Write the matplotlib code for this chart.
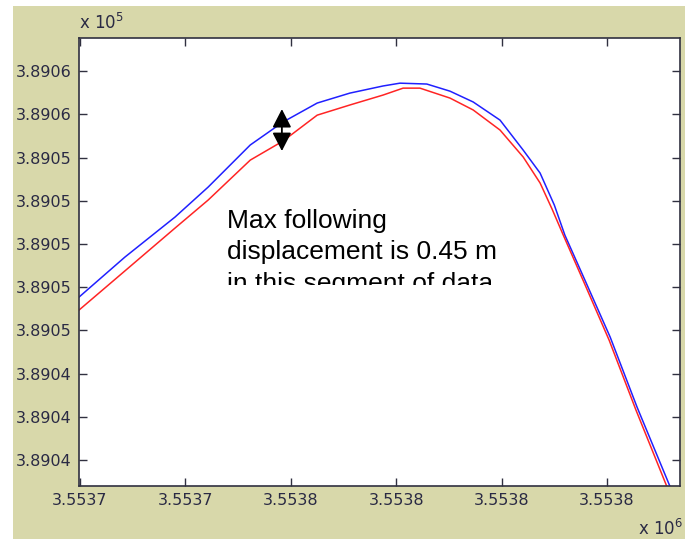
import numpy as np
import matplotlib
matplotlib.use('Agg')
import matplotlib.pyplot as plt
from matplotlib.patches import Rectangle
from matplotlib.transforms import Bbox, TransformedBbox

# easting / northing of the two tracks (m)
blue_x = [3553719.8, 3553728.5, 3553738.0, 3553744.3, 3553752.3, 3553758.5,
          3553765.0, 3553771.2, 3553777.5, 3553780.7, 3553785.8, 3553790.2, 3553794.6,
          3553799.7, 3553804.1, 3553807.3, 3553810.0, 3553812.0, 3553815.8, 3553820.6,
          3553825.7, 3553832.0]
blue_y = [389047.54, 389049.39, 389051.24, 389052.63, 389054.58, 389055.64,
          389056.52, 389056.98, 389057.31, 389057.44, 389057.40, 389057.07, 389056.57,
          389055.73, 389054.34, 389053.28, 389051.80, 389050.41, 389048.33, 389045.69,
          389042.45, 389038.75]

red_x = [3553719.8, 3553728.5, 3553738.0, 3553744.3, 3553752.3, 3553758.5, 3553765.0,
         3553771.2, 3553777.5, 3553781.3, 3553784.5, 3553790.2, 3553794.6, 3553799.7,
         3553804.1, 3553807.3, 3553809.6, 3553811.7, 3553815.6, 3553820.4, 3553825.5,
         3553831.4]
red_y = [389046.94, 389048.75, 389050.73, 389052.03, 389053.88, 389054.76, 389055.96,
         389056.43, 389056.89, 389057.21, 389057.21, 389056.75, 389056.20, 389055.27,
         389054.02, 389052.82, 389051.60, 389050.41, 389048.24, 389045.55, 389042.31,
         389038.75]

x_ticks = [3553720, 3553740, 3553760, 3553780, 3553800, 3553820]
x_tick_labels = ['3.5537', '3.5537', '3.5538', '3.5538', '3.5538', '3.5538']
y_ticks = [389058, 389056, 389054, 389052, 389050, 389048, 389046, 389044, 389042, 389040]
y_tick_labels = ['3.8906', '3.8906', '3.8905', '3.8905', '3.8905', '3.8905', '3.8905',
                 '3.8904', '3.8904', '3.8904']

note_lines = ['Max following', 'displacement is 0.45 m', 'in this segment of data']

W, H = 694, 539
fig = plt.figure(figsize=(W / 100, H / 100), dpi=100, facecolor='white')

# matlab style figure background
fig.patches.append(Rectangle((13 / W, 0), (685 - 13) / W, (H - 6) / H,
                             transform=fig.transFigure, facecolor='#d8d8aa',
                             edgecolor='none', zorder=-10))

ax = fig.add_axes([79 / W, (H - 486) / H, (680 - 79) / W, (486 - 38) / H])
ax.set_facecolor('white')

ax.plot(blue_x, blue_y, color='#2020ff', lw=1.1)
ax.plot(red_x, red_y, color='#ff2424', lw=1.1)

ax.set_xlim(3553719.8, 3553833.85)
ax.set_ylim(389038.80, 389059.53)

ax.set_xticks(x_ticks)
ax.set_xticklabels(x_tick_labels)
ax.set_yticks(y_ticks)
ax.set_yticklabels(y_tick_labels)

lab_col = '#2a2a44'
ax.tick_params(direction='in', length=6, width=1, top=True, right=True,
               labelsize=11.5, labelcolor=lab_col, color='#303040')
ax.tick_params(axis='y', pad=5.5)
ax.tick_params(axis='x', pad=5)
for s in ax.spines.values():
    s.set_color('#303040')
    s.set_linewidth(1.2)

# double arrow showing the offset
ax.annotate('', xy=(3553758.3, 389056.24), xytext=(3553758.3, 389054.30),
            arrowprops=dict(arrowstyle='<|-|>,head_length=0.7,head_width=0.36',
                            mutation_scale=16, color='black', lw=1.3,
                            shrinkA=0, shrinkB=0))

# text, cut off at the bottom like in the original
clip = TransformedBbox(Bbox([[0, (486 - 285) / 448], [1, 1]]), ax.transAxes)
for i, line in enumerate(note_lines):
    base = 228 + i * 31.5
    t = ax.text((227 - 79) / 601, (486 - base) / 448, line, transform=ax.transAxes,
                fontsize=19, family='Liberation Sans', va='baseline', ha='left',
                color='black')
    t.set_clip_box(clip)
    t.set_clip_on(True)

fig.text(79 / W, (H - 29) / H, r'x 10$^5$', fontsize=12, color=lab_col, va='baseline')
fig.text(638 / W, (H - 535) / H, r'x 10$^6$', fontsize=12, color=lab_col, va='baseline')

fig.savefig('out.png', dpi=100, facecolor=fig.get_facecolor())
